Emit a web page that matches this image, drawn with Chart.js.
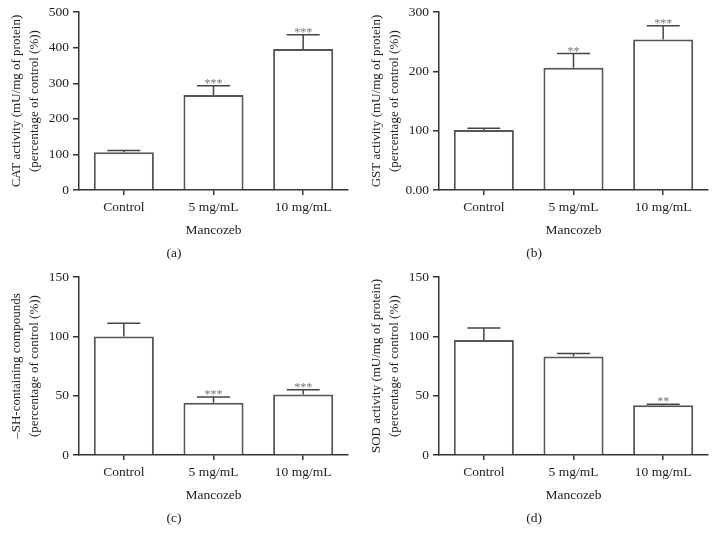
<!DOCTYPE html>
<html>
<head>
<meta charset="utf-8">
<script src="https://cdn.jsdelivr.net/npm/chart.js@4.4.1/dist/chart.umd.min.js"></script>
<style>
body{margin:0;background:#fff;width:716px;height:544px;overflow:hidden;position:relative;}
canvas{position:absolute;}
</style>
</head>
<body>
<canvas id="chartA" width="356" height="272" style="left:0;top:0"></canvas>
<canvas id="chartB" width="356" height="272" style="left:360px;top:0"></canvas>
<canvas id="chartC" width="356" height="272" style="left:0;top:265px"></canvas>
<canvas id="chartD" width="356" height="272" style="left:360px;top:265px"></canvas>
<script>
// カテゴリ
const categories = ['Control', '5 mg/mL', '10 mg/mL'];
const xTitle = 'Mancozeb';

// (a) CAT
const catMeans = [106, 267, 396];
const catErrors = [5, 26, 40];
const catMarks = ['', '***', '***'];
const catTicks = ['0', '100', '200', '300', '400', '500'];

// (b) GST
const gstMeans = [101, 206, 254];
const gstErrors = [3, 24, 23];
const gstMarks = ['', '**', '***'];
const gstTicks = ['0.00', '100', '200', '300'];

// (c) -SH
const shMeans = [100, 44, 51];
const shErrors = [11, 5, 4];
const shMarks = ['', '***', '***'];
const shTicks = ['0', '50', '100', '150'];

// (d) SOD
const sodMeans = [97, 83, 42];
const sodErrors = [10, 2.5, 0.8];
const sodMarks = ['', '', '**'];
const sodTicks = ['0', '50', '100', '150'];

const FONT = '"Liberation Serif", "Times New Roman", serif';
const TEXT = '#222';
const AXIS = '#333';

// エラーバーとアスタリスク
const errorBarPlugin = {
    id: 'errorBars',
    afterDatasetsDraw(chart, args, opts) {
        const ctx = chart.ctx;
        const y = chart.scales.y;
        const meta = chart.getDatasetMeta(0);
        const values = chart.data.datasets[0].data;
        meta.data.forEach((bar, i) => {
            const base = y.getPixelForValue(values[i]);
            const top = y.getPixelForValue(values[i] + opts.errors[i]);
            const half = bar.width * 0.275;
            ctx.save();
            ctx.strokeStyle = '#444';
            ctx.lineWidth = 1.5;
            ctx.beginPath();
            ctx.moveTo(bar.x, base);
            ctx.lineTo(bar.x, top);
            ctx.moveTo(bar.x - half, top);
            ctx.lineTo(bar.x + half, top);
            ctx.stroke();
            if (opts.marks[i]) {
                ctx.fillStyle = '#777';
                ctx.font = '12px ' + FONT;
                ctx.textAlign = 'center';
                ctx.textBaseline = 'alphabetic';
                ctx.fillText(opts.marks[i], bar.x, top + 1);
            }
            ctx.restore();
        });
    }
};

function makeChart(id, caption, means, errors, marks, ticks, yMax, yStep, yTitle) {
    return new Chart(document.getElementById(id), {
        type: 'bar',
        data: {
            labels: categories,
            datasets: [{
                data: means,
                backgroundColor: '#fff',
                borderColor: '#555',
                borderWidth: 2,
                barPercentage: 0.67,
                categoryPercentage: 1.0
            }]
        },
        options: {
            responsive: false,
            animation: false,
            layout: { padding: { top: 12, right: 8, left: 0, bottom: 0 } },
            plugins: {
                legend: { display: false },
                tooltip: { enabled: false },
                title: {
                    display: true,
                    position: 'bottom',
                    text: caption,
                    color: TEXT,
                    font: { family: FONT, size: 13.5, weight: 'normal', lineHeight: 1.2 },
                    padding: { top: 5, bottom: 10.8 }
                },
                errorBars: { errors: errors, marks: marks }
            },
            scales: {
                x: {
                    afterFit: s => { s.height = 50; },
                    border: { color: AXIS, width: 1.5 },
                    grid: { display: true, drawOnChartArea: false, offset: false, tickLength: 5, color: AXIS, lineWidth: 1.5 },
                    ticks: { color: TEXT, font: { family: FONT, size: 13.5 }, padding: 4, maxRotation: 0 },
                    title: { display: true, text: xTitle, color: TEXT, font: { family: FONT, size: 13.5, lineHeight: 1.2 }, padding: { top: 0, bottom: 1 } }
                },
                y: {
                    min: 0,
                    max: yMax,
                    afterFit: s => { s.width = 79; },
                    border: { color: AXIS, width: 1.5 },
                    grid: { display: true, drawOnChartArea: false, tickLength: 6, color: AXIS, lineWidth: 1.5 },
                    ticks: {
                        stepSize: yStep,
                        color: TEXT,
                        font: { family: FONT, size: 13.5 },
                        padding: 4,
                        callback: (v, i) => ticks[i]
                    },
                    title: { display: true, text: yTitle, color: TEXT, font: { family: FONT, size: 13, lineHeight: 1.4 }, padding: { top: 7, bottom: 0 } }
                }
            }
        },
        plugins: [errorBarPlugin]
    });
}

makeChart('chartA', '(a)', catMeans, catErrors, catMarks, catTicks, 500, 100,
    ['CAT activity (mU/mg of protein)', '(percentage of control (%))']);
makeChart('chartB', '(b)', gstMeans, gstErrors, gstMarks, gstTicks, 300, 100,
    ['GST activity (mU/mg of protein)', '(percentage of control (%))']);
makeChart('chartC', '(c)', shMeans, shErrors, shMarks, shTicks, 150, 50,
    ['\u2013SH-containing compounds', '(percentage of control (%))']);
makeChart('chartD', '(d)', sodMeans, sodErrors, sodMarks, sodTicks, 150, 50,
    ['SOD activity (mU/mg of protein)', '(percentage of control (%))']);
</script>
</body>
</html>
